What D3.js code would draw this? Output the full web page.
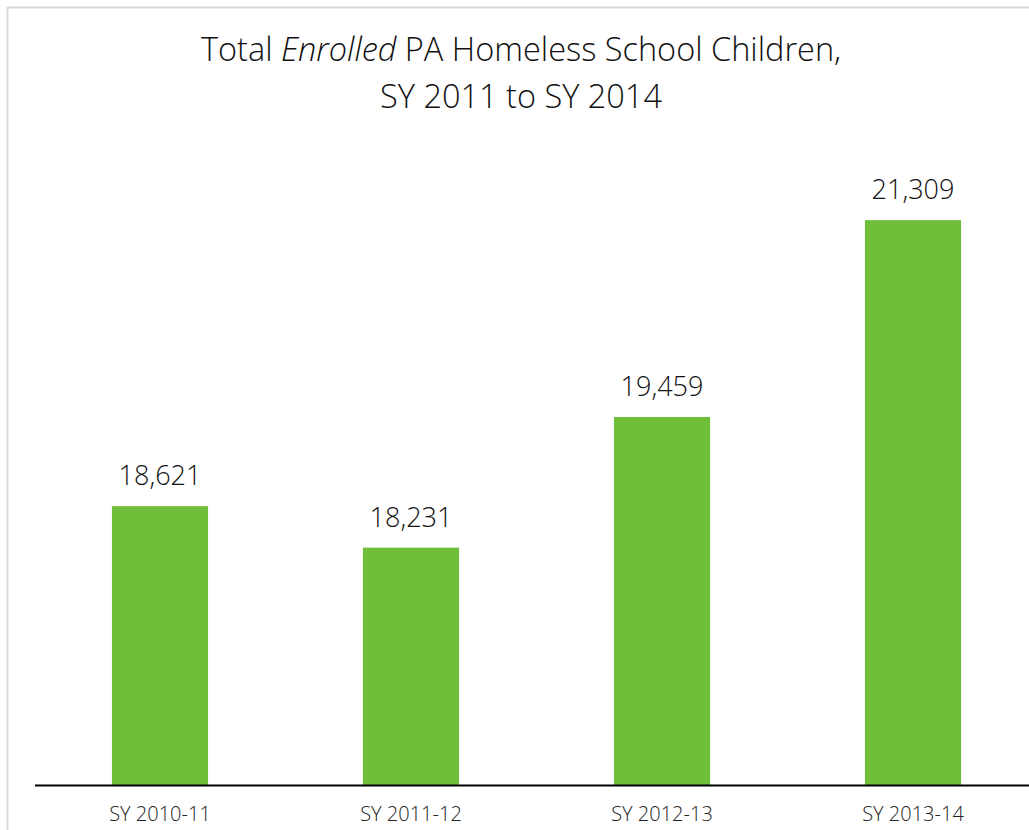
<!DOCTYPE html>
<html><head><meta charset="utf-8">
<script src="https://cdn.jsdelivr.net/npm/d3@7"></script>
<style>body{margin:0;background:#fff}svg{display:block}text{font-family:"Open Sans",sans-serif}</style>
</head><body><svg id="c" width="1029" height="830"></svg>
<script>
const categories = ["SY 2010-11","SY 2011-12","SY 2012-13","SY 2013-14"];
const values = [18621, 18231, 19459, 21309];
const yDomain = [16000, 22000];

const svg = d3.select("#c");
// outer chart border
svg.append("rect").attr("x",7.5).attr("y",7.5).attr("width",1040).attr("height",840)
  .attr("fill","none").attr("stroke","#d9d9d9").attr("stroke-width",2);

const x = d3.scaleBand().domain(categories).range([34.5,1038.5]).paddingInner(0.617).paddingOuter(0.3085);
const y = d3.scaleLinear().domain(yDomain).range([785,146.6]);

svg.selectAll("rect.bar").data(values).join("rect").attr("class","bar")
  .attr("x",(d,i)=>x(categories[i])).attr("width",x.bandwidth())
  .attr("y",d=>y(d)).attr("height",d=>785-y(d)).attr("fill","#70bf3b");

svg.selectAll("text.val").data(values).join("text").attr("class","val")
  .attr("x",(d,i)=>x(categories[i])+x.bandwidth()/2).attr("y",d=>y(d)-21)
  .attr("text-anchor","middle").attr("font-size",27).attr("font-weight",300).attr("fill","#111")
  .text(d=>d3.format(",")(d));

const ax = svg.append("g").attr("transform","translate(0,785)")
  .call(d3.axisBottom(x).tickSize(0).tickPadding(22));
ax.select(".domain").attr("stroke","#000").attr("stroke-width",2);
ax.selectAll("text").attr("font-size",20).attr("font-weight",300).attr("fill","#222").attr("font-family","'Open Sans',sans-serif");

const t = svg.append("text").attr("x",521).attr("y",61).attr("text-anchor","middle")
  .attr("font-size",32.5).attr("font-weight",300).attr("fill","#111");
t.append("tspan").text("Total ");
t.append("tspan").attr("font-style","italic").text("Enrolled");
t.append("tspan").text(" PA Homeless School Children,");
svg.append("text").attr("x",521).attr("y",108).attr("text-anchor","middle")
  .attr("font-size",32.5).attr("font-weight",300).attr("fill","#111").text("SY 2011 to SY 2014");
</script></body></html>
